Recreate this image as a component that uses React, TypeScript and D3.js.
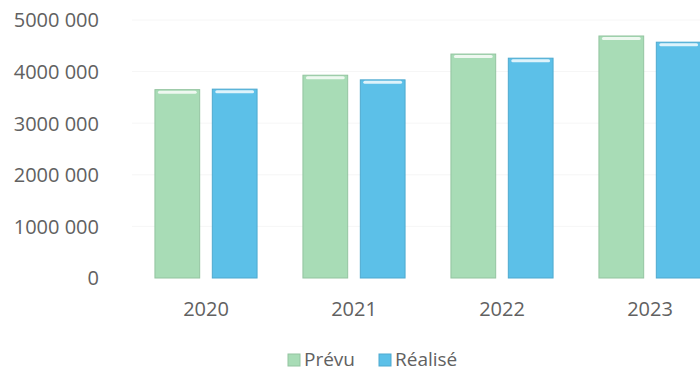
import React from "react";
import * as d3 from "d3";

const years = ["2020", "2021", "2022", "2023"];
const seriesNames = ["Prévu", "Réalisé"];
const prevu = [3650000, 3930000, 4340000, 4690000];
const realise = [3660000, 3840000, 4260000, 4570000];
const yTicks = [0, 1000000, 2000000, 3000000, 4000000, 5000000];
const colors = ["#a8dcb6", "#5cc0e8"];
const edgeColors = ["#93c4a0", "#4ea9cf"];

const W = 700;
const H = 371;

function fmt(v: number) {
  if (v === 0) return "0";
  const s = String(v);
  return s.slice(0, s.length - 3) + " " + s.slice(s.length - 3);
}

export default function App() {
  const y = d3.scaleLinear().domain([0, 5000000]).range([278, 20]);
  const x = d3.scaleBand<string>().domain(years).range([132, 724]).paddingInner(0.31).paddingOuter(0.155);
  const xs = d3.scaleBand<string>().domain(seriesNames).range([0, x.bandwidth()]).paddingInner(0.22).paddingOuter(0);
  const data = [prevu, realise];
  const font = "'Open Sans', sans-serif";

  return (
    <svg width={W} height={H} style={{ position: "absolute", left: 0, top: 0, background: "#fff" }} fontFamily={font}>
      {yTicks.map((t) => (
        <g key={t}>
          {t > 0 && <line x1={132} x2={W} y1={y(t)} y2={y(t)} stroke="#f6f6f6" strokeWidth={1} />}
          <text x={99} y={y(t) + 2} textAnchor="end" dominantBaseline="middle" fontSize={20} fill="#616161">
            {fmt(t)}
          </text>
        </g>
      ))}
      {years.map((yr, i) => (
        <g key={yr}>
          {seriesNames.map((s, j) => {
            const bx = (x(yr) as number) + (xs(s) as number);
            const bw = xs.bandwidth();
            const top = y(data[j][i]);
            const bottom = y(0);
            return (
              <g key={s}>
                <rect x={bx} y={top} width={bw} height={bottom - top} fill={colors[j]} stroke={edgeColors[j]} strokeWidth={1} />
                <rect x={bx + 3} y={top + 1} width={bw - 6} height={3} fill="#ffffff" opacity={0.8} rx={1.5} />
              </g>
            );
          })}
          <text x={(x(yr) as number) + x.bandwidth() / 2} y={311} textAnchor="middle" dominantBaseline="middle" fontSize={20} fill="#616161">
            {yr}
          </text>
        </g>
      ))}
      {seriesNames.map((s, j) => {
        const lx = [288, 379][j];
        return (
          <g key={s}>
            <rect x={lx} y={354} width={12} height={12} fill={colors[j]} stroke={edgeColors[j]} strokeWidth={1} />
            <text x={lx + 16} y={361} dominantBaseline="middle" fontSize={19} fill="#616161">
              {s}
            </text>
          </g>
        );
      })}
    </svg>
  );
}
